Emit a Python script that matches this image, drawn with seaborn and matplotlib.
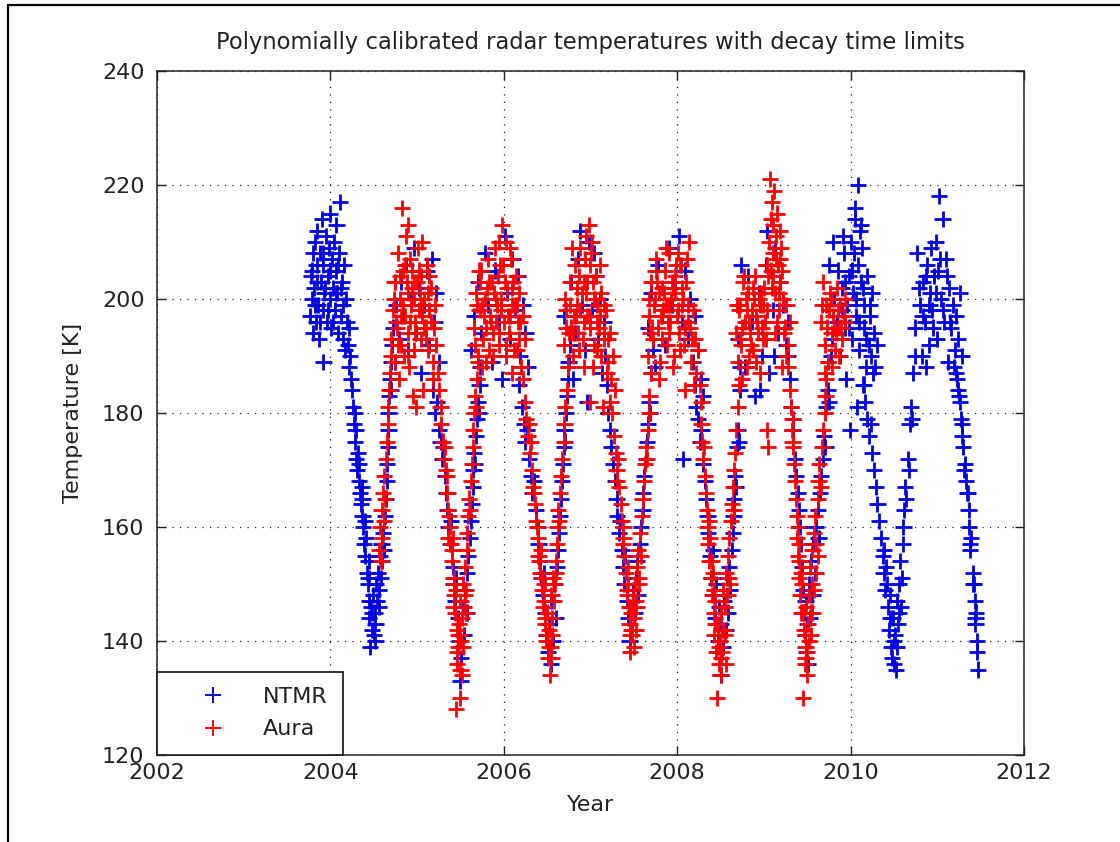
import matplotlib
matplotlib.use("Agg")
import matplotlib.pyplot as plt
from matplotlib.lines import Line2D
import pandas as pd
import seaborn as sns

# ---- NTMR radar temperatures (decimal year, K) ----
ntmr_year = [
    2003.77, 2003.78, 2003.79, 2003.80, 2003.80, 2003.81, 2003.82, 2003.83, 2003.84, 2003.85,
    2003.86, 2003.87, 2003.88, 2003.89, 2003.90, 2003.91, 2003.92, 2003.92, 2003.93, 2003.95,
    2003.96, 2003.97, 2003.98, 2003.99, 2004.00, 2004.01, 2004.02, 2004.03, 2004.04, 2004.05,
    2004.06, 2004.07, 2004.08, 2004.09, 2004.10, 2004.11, 2004.12, 2004.13, 2004.14, 2004.15,
    2004.16, 2004.17, 2004.18, 2004.19, 2004.20, 2004.21, 2004.22, 2004.23, 2004.24, 2004.25,
    2004.26, 2004.27, 2004.28, 2004.29, 2004.30, 2004.31, 2004.32, 2004.33, 2004.34, 2004.35,
    2004.36, 2004.37, 2004.38, 2004.39, 2004.40, 2004.41, 2004.42, 2004.43, 2004.44, 2004.45,
    2004.45, 2004.46, 2004.47, 2004.48, 2004.49, 2004.50, 2004.51, 2004.52, 2004.53, 2004.54,
    2004.55, 2004.56, 2004.57, 2004.58, 2004.59, 2004.60, 2004.61, 2004.62, 2004.63, 2004.64,
    2004.65, 2004.65, 2004.66, 2004.67, 2004.67, 2004.68, 2004.69, 2004.70, 2004.70, 2004.71,
    2004.72, 2004.74, 2004.76, 2004.79, 2004.81, 2004.84, 2004.87, 2004.90, 2004.93, 2004.96,
    2004.99, 2005.02, 2005.05, 2005.08, 2005.11, 2005.14, 2005.17, 2005.20, 2005.22, 2005.25,
    2005.18, 2005.21, 2005.23, 2005.25, 2005.27, 2005.29, 2005.30, 2005.32, 2005.33, 2005.35,
    2005.36, 2005.38, 2005.39, 2005.41, 2005.42, 2005.44, 2005.45, 2005.47, 2005.48, 2005.50,
    2005.51, 2005.53, 2005.54, 2005.55, 2005.57, 2005.58, 2005.59, 2005.61, 2005.62, 2005.63,
    2005.64, 2005.65, 2005.66, 2005.67, 2005.68, 2005.69, 2005.70, 2005.71, 2005.72, 2005.73,
    2005.62, 2005.66, 2005.70, 2005.74, 2005.78, 2005.82, 2005.86, 2005.90, 2005.94, 2005.98,
    2006.01, 2006.04, 2006.07, 2006.10, 2006.13, 2006.16, 2006.19, 2006.22, 2006.25, 2006.28,
    2006.18, 2006.21, 2006.23, 2006.25, 2006.27, 2006.29, 2006.31, 2006.33, 2006.35, 2006.37,
    2006.39, 2006.40, 2006.42, 2006.43, 2006.45, 2006.46, 2006.48, 2006.49, 2006.51, 2006.52,
    2006.54, 2006.55, 2006.57, 2006.58, 2006.60, 2006.61, 2006.62, 2006.64, 2006.65, 2006.66,
    2006.67, 2006.68, 2006.69, 2006.70, 2006.71, 2006.72, 2006.73, 2006.74, 2006.75, 2006.76,
    2006.70, 2006.74, 2006.78, 2006.82, 2006.86, 2006.90, 2006.94, 2006.98, 2007.02, 2007.06,
    2007.09, 2007.11, 2007.13, 2007.15, 2007.17, 2007.19, 2006.88, 2006.96, 2007.04, 2006.80,
    2007.20, 2007.22, 2007.24, 2007.26, 2007.28, 2007.30, 2007.31, 2007.33, 2007.34, 2007.36,
    2007.37, 2007.39, 2007.40, 2007.42, 2007.43, 2007.45, 2007.46, 2007.48, 2007.49, 2007.51,
    2007.52, 2007.54, 2007.55, 2007.57, 2007.58, 2007.60, 2007.61, 2007.62, 2007.64, 2007.65,
    2007.66, 2007.68, 2007.69, 2007.70, 2007.72,
    2007.66, 2007.70, 2007.74, 2007.78, 2007.82, 2007.86, 2007.90, 2007.94, 2007.98, 2008.02,
    2008.05, 2008.07, 2008.09, 2008.12, 2008.15, 2008.18, 2008.21, 2008.24, 2008.27, 2008.30,
    2008.20, 2008.22, 2008.24, 2008.26, 2008.28, 2008.30, 2008.32, 2008.33, 2008.35, 2008.36,
    2008.38, 2008.39, 2008.41, 2008.42, 2008.44, 2008.45, 2008.47, 2008.48, 2008.50, 2008.51,
    2008.53, 2008.54, 2008.56, 2008.57, 2008.59, 2008.60, 2008.61, 2008.63, 2008.64, 2008.65,
    2008.66, 2008.67, 2008.68, 2008.69, 2008.70, 2008.71, 2008.72, 2008.73,
    2008.70, 2008.74, 2008.78, 2008.82, 2008.86, 2008.90, 2008.94, 2008.98, 2009.02, 2009.06,
    2009.10, 2009.13, 2009.16, 2009.19, 2009.22, 2009.25, 2009.28, 2008.96, 2009.04, 2009.12,
    2009.28, 2009.30, 2009.31, 2009.33, 2009.34, 2009.36, 2009.37, 2009.39, 2009.40, 2009.42,
    2009.43, 2009.44, 2009.45, 2009.46, 2009.47, 2009.48, 2009.49, 2009.50, 2009.51, 2009.52,
    2009.53, 2009.54, 2009.56, 2009.57, 2009.59, 2009.60, 2009.62, 2009.63, 2009.65, 2009.66,
    2009.68, 2009.69, 2009.71, 2009.72, 2009.74, 2009.75, 2009.77,
    2009.78, 2009.81, 2009.84, 2009.86, 2009.88, 2009.90, 2009.92, 2009.94, 2009.96, 2009.98,
    2009.99, 2010.00, 2010.02, 2010.03, 2010.05, 2010.06, 2010.08, 2010.09, 2010.10, 2010.12,
    2010.13, 2010.15, 2010.16, 2010.18, 2010.19, 2010.21, 2010.22, 2010.24, 2010.25, 2010.27,
    2010.05, 2010.07, 2010.11, 2010.14, 2009.95, 2009.91, 2010.28, 2010.30, 2009.75, 2009.80,
    2010.15, 2010.17, 2010.19, 2010.21, 2010.23, 2010.25, 2010.27, 2010.29, 2010.31, 2010.33,
    2010.35, 2010.37, 2010.38, 2010.40, 2010.41, 2010.43, 2010.44, 2010.46, 2010.47, 2010.49,
    2010.50, 2010.51, 2010.52, 2010.54, 2010.55, 2010.56, 2010.57, 2010.58, 2010.60, 2010.61,
    2010.62, 2010.63, 2010.64, 2010.66, 2010.67, 2010.68, 2010.70, 2010.71, 2010.72, 2010.74,
    2010.74, 2010.77, 2010.80, 2010.82, 2010.84, 2010.86, 2010.88, 2010.90, 2010.92, 2010.94,
    2010.96, 2010.98, 2011.00, 2011.02, 2011.04, 2011.06, 2011.08, 2011.10, 2011.12, 2011.14,
    2011.16, 2011.18, 2011.20, 2011.22, 2011.24, 2011.26, 2011.28, 2010.87, 2010.93, 2011.01,
    2011.22, 2011.24, 2011.26, 2011.27, 2011.29, 2011.30, 2011.32, 2011.33, 2011.34, 2011.36,
    2011.37, 2011.38, 2011.39, 2011.41, 2011.42, 2011.43, 2011.44, 2011.45, 2011.46, 2011.47,
    # second pass over the same seasons
    2003.79, 2003.82, 2003.85, 2003.88, 2003.91, 2003.94, 2003.97, 2004.00, 2004.03, 2004.06, 2004.09, 2004.12,
    2004.28, 2004.33, 2004.37, 2004.40, 2004.44, 2004.48, 2004.52, 2004.56,
    2009.90, 2009.94, 2009.98, 2010.02, 2010.06, 2010.10, 2010.14, 2010.18, 2010.22, 2010.26, 2010.04, 2010.12,
    2010.39, 2010.42, 2010.45, 2010.48, 2010.50, 2010.53, 2010.56, 2010.59,
    2010.79, 2010.83, 2010.87, 2010.91, 2010.95, 2010.99, 2011.03, 2011.07, 2011.11, 2011.15, 2011.19, 2011.23,
    2011.25, 2011.28, 2011.31, 2011.35, 2011.38, 2011.41, 2011.44, 2011.46,
]
ntmr_temp = [
    197, 204, 200, 208, 194, 202, 210, 196, 206, 212,
    199, 193, 208, 203, 214, 198, 189, 206, 201, 211,
    196, 204, 209, 200, 215, 195, 207, 202, 210, 198,
    205, 213, 201, 194, 208, 217, 197, 203, 199, 193,
    206, 191, 200, 196, 192, 188, 195, 190, 186, 184,
    181, 178, 175, 177, 172, 170, 173, 168, 166, 164,
    167, 162, 160, 157, 155, 158, 152, 150, 154, 147,
    144, 139, 146, 142, 148, 141, 145, 143, 150, 147,
    152, 149, 155, 151, 157, 154, 159, 156, 162, 165,
    168, 171, 174, 177, 180, 183, 186, 184, 189, 192,
    195, 189, 199, 193, 203, 197, 206, 191, 200, 209,
    194, 202, 187, 199, 205, 192, 207, 196, 201, 189,
    184, 180, 182, 177, 175, 172, 174, 169, 166, 163,
    160, 157, 161, 153, 150, 147, 151, 144, 140, 133,
    137, 146, 141, 149, 145, 152, 155, 158, 161, 164,
    167, 170, 173, 171, 176, 179, 182, 180, 185, 188,
    191, 197, 203, 194, 208, 199, 189, 205, 196, 186,
    211, 201, 193, 207, 198, 204, 190, 199, 194, 188,
    185, 181, 178, 175, 177, 172, 169, 166, 168, 163,
    160, 157, 154, 151, 148, 152, 145, 141, 138, 143,
    136, 147, 140, 150, 144, 153, 156, 159, 162, 165,
    168, 171, 174, 177, 175, 180, 183, 186, 189, 192,
    197, 189, 203, 194, 207, 199, 191, 210, 198, 204,
    193, 200, 187, 196, 190, 185, 212, 182, 208, 186,
    180, 177, 174, 171, 168, 165, 162, 159, 161, 156,
    153, 150, 155, 147, 144, 140, 146, 142, 149, 145,
    151, 154, 148, 157, 160, 163, 166, 169, 172, 175,
    178, 182, 180, 187, 191,
    195, 201, 188, 206, 197, 192, 209, 199, 203, 211,
    196, 172, 205, 193, 200, 189, 197, 191, 186, 183,
    185, 181, 179, 175, 177, 171, 168, 165, 162, 159,
    155, 151, 156, 148, 144, 150, 140, 146, 134, 143,
    139, 147, 142, 151, 145, 153, 149, 156, 159, 162,
    165, 169, 167, 174, 177, 175, 184, 188,
    193, 206, 188, 204, 196, 183, 201, 190, 206, 187,
    198, 209, 194, 203, 199, 192, 196, 184, 212, 190,
    190, 186, 181, 177, 179, 172, 169, 166, 163, 160,
    157, 153, 149, 145, 141, 147, 138, 143, 136, 150,
    144, 154, 148, 157, 152, 160, 163, 158, 166, 169,
    172, 176, 174, 181, 184, 182, 190,
    193, 200, 196, 205, 190, 202, 208, 195, 199, 204,
    177, 210, 193, 201, 214, 197, 206, 220, 191, 203,
    209, 195, 199, 188, 204, 192, 197, 190, 201, 194,
    216, 181, 212, 185, 186, 211, 188, 192, 206, 210,
    185, 182, 179, 176, 178, 173, 170, 167, 164, 161,
    158, 155, 152, 149, 153, 146, 142, 148, 139, 144,
    136, 141, 135, 147, 143, 150, 154, 146, 157, 160,
    163, 167, 165, 172, 170, 178, 181, 179, 187, 190,
    195, 208, 199, 190, 203, 196, 206, 192, 201, 198,
    204, 210, 193, 218, 200, 214, 196, 207, 189, 202,
    195, 199, 191, 197, 193, 201, 190, 188, 209, 205,
    187, 184, 182, 179, 176, 174, 171, 168, 166, 163,
    160, 157, 158, 152, 150, 147, 144, 145, 138, 135,
    # second pass over the same seasons
    205, 199, 203, 196, 208, 202, 198, 205, 196, 201, 206, 202,
    180, 171, 165, 161, 151, 145, 140, 146,
    198, 203, 195, 205, 200, 196, 202, 193, 199, 187, 208, 213,
    156, 150, 144, 137, 140, 139, 145, 151,
    202, 197, 204, 199, 195, 201, 207, 198, 204, 196, 188, 186,
    183, 178, 170, 166, 156, 150, 143, 140,
]

# ---- Aura radar temperatures (decimal year, K) ----
aura_year = [
    2004.56, 2004.57, 2004.58, 2004.59, 2004.60, 2004.61, 2004.62, 2004.62, 2004.63, 2004.64,
    2004.65, 2004.66, 2004.67, 2004.68, 2004.69, 2004.70,
    2004.70, 2004.72, 2004.74, 2004.75, 2004.77, 2004.78, 2004.80, 2004.81, 2004.83, 2004.84,
    2004.86, 2004.87, 2004.89, 2004.90, 2004.92, 2004.93, 2004.95, 2004.96, 2004.98, 2004.99,
    2005.01, 2005.02, 2005.04, 2005.05, 2005.07, 2005.08, 2005.10, 2005.11, 2005.13, 2005.14,
    2005.16, 2005.18, 2005.19, 2005.21, 2005.22, 2004.79, 2004.85, 2004.91, 2004.97, 2005.03,
    2005.24, 2005.25, 2005.27, 2005.28, 2005.30, 2005.31, 2005.32, 2005.34, 2005.35, 2005.36,
    2005.38, 2005.39, 2005.40, 2005.41, 2005.42, 2005.43, 2005.44, 2005.45, 2005.46, 2005.47,
    2005.45, 2005.46, 2005.48, 2005.49, 2005.50, 2005.51, 2005.52, 2005.53, 2005.54, 2005.55,
    2005.56, 2005.57, 2005.58, 2005.59, 2005.60, 2005.61, 2005.62, 2005.63, 2005.64, 2005.65,
    2005.66, 2005.67, 2005.68, 2005.69, 2005.70,
    2005.66, 2005.68, 2005.70, 2005.72, 2005.74, 2005.76, 2005.78, 2005.80, 2005.82, 2005.84,
    2005.86, 2005.88, 2005.90, 2005.92, 2005.94, 2005.96, 2005.98, 2006.00, 2006.02, 2006.04,
    2006.06, 2006.08, 2006.10, 2006.12, 2006.14, 2006.16, 2006.18, 2006.20, 2006.22, 2006.24,
    2005.75, 2005.83, 2005.91, 2005.97, 2006.03, 2006.09, 2006.15,
    2006.22, 2006.24, 2006.26, 2006.28, 2006.30, 2006.31, 2006.33, 2006.34, 2006.36, 2006.37,
    2006.39, 2006.40, 2006.42, 2006.43, 2006.44, 2006.45, 2006.47, 2006.48, 2006.49, 2006.50,
    2006.51, 2006.52, 2006.53, 2006.54, 2006.55, 2006.56, 2006.57, 2006.58, 2006.60, 2006.61,
    2006.62, 2006.63, 2006.65, 2006.66, 2006.67, 2006.69, 2006.70, 2006.71, 2006.73, 2006.74,
    2006.70, 2006.72, 2006.74, 2006.76, 2006.78, 2006.80, 2006.82, 2006.84, 2006.86, 2006.88,
    2006.90, 2006.92, 2006.94, 2006.96, 2006.98, 2007.00, 2007.02, 2007.04, 2007.06, 2007.08,
    2007.10, 2007.12, 2007.14, 2007.16, 2007.18, 2007.20, 2007.22, 2007.24, 2007.26, 2007.28,
    2006.81, 2006.87, 2006.93, 2006.99, 2007.05, 2007.11, 2007.03,
    2007.25, 2007.27, 2007.29, 2007.30, 2007.32, 2007.33, 2007.35, 2007.36, 2007.38, 2007.39,
    2007.41, 2007.42, 2007.43, 2007.44, 2007.45, 2007.46, 2007.47, 2007.48, 2007.49, 2007.50,
    2007.51, 2007.52, 2007.54, 2007.55, 2007.56, 2007.57, 2007.59, 2007.60, 2007.62, 2007.63,
    2007.64, 2007.66, 2007.67, 2007.68, 2007.70,
    2007.66, 2007.68, 2007.70, 2007.72, 2007.74, 2007.76, 2007.78, 2007.80, 2007.82, 2007.84,
    2007.86, 2007.88, 2007.90, 2007.92, 2007.94, 2007.96, 2007.98, 2008.00, 2008.02, 2008.04,
    2008.06, 2008.08, 2008.10, 2008.12, 2008.14, 2008.16, 2008.18, 2008.20, 2008.22, 2008.24,
    2007.79, 2007.87, 2007.95, 2008.01, 2008.09, 2008.26, 2008.28,
    2008.28, 2008.29, 2008.30, 2008.32, 2008.33, 2008.34, 2008.35, 2008.36, 2008.37, 2008.38,
    2008.39, 2008.40, 2008.41, 2008.42, 2008.43, 2008.44, 2008.45, 2008.46, 2008.47, 2008.48,
    2008.49, 2008.50, 2008.51, 2008.52, 2008.53, 2008.54, 2008.55, 2008.56, 2008.58, 2008.59,
    2008.60, 2008.62, 2008.63, 2008.64, 2008.66, 2008.67, 2008.68, 2008.70, 2008.71,
    2008.68, 2008.70, 2008.72, 2008.74, 2008.76, 2008.78, 2008.80, 2008.82, 2008.84, 2008.86,
    2008.88, 2008.90, 2008.92, 2008.94, 2008.96, 2008.98, 2009.00, 2009.02, 2009.04, 2009.05,
    2009.06, 2009.07, 2009.08, 2009.09, 2009.10, 2009.11, 2009.12, 2009.13, 2009.14, 2009.15,
    2009.16, 2009.17, 2009.18, 2009.19, 2009.20, 2009.22, 2009.24, 2009.26, 2009.28, 2009.30,
    2008.75, 2008.83, 2008.91, 2008.99, 2009.03, 2009.13, 2009.21,
    2009.28, 2009.30, 2009.31, 2009.32, 2009.33, 2009.34, 2009.35, 2009.36, 2009.37, 2009.38,
    2009.38, 2009.39, 2009.40, 2009.41, 2009.42, 2009.43, 2009.44, 2009.45, 2009.46, 2009.47,
    2009.48, 2009.49, 2009.50, 2009.51, 2009.52, 2009.53, 2009.54, 2009.55, 2009.56, 2009.58,
    2009.59, 2009.60, 2009.62, 2009.63, 2009.64, 2009.66, 2009.67, 2009.68, 2009.70, 2009.71,
    2009.72, 2009.74,
    2009.66, 2009.68, 2009.70, 2009.72, 2009.74, 2009.76, 2009.78, 2009.80, 2009.82, 2009.84,
    2009.86, 2009.88, 2009.90, 2009.92, 2009.94, 2009.71, 2009.79, 2009.87, 2009.75, 2009.83,
    # second pass over the same seasons
    2004.73, 2004.76, 2004.80, 2004.84, 2004.88, 2004.92, 2004.96, 2005.00, 2005.04, 2005.08,
    2005.12, 2005.16, 2004.90, 2004.94, 2005.06,
    2005.33, 2005.37, 2005.40, 2005.43, 2005.47, 2005.50, 2005.53, 2005.56,
    2005.69, 2005.73, 2005.77, 2005.81, 2005.85, 2005.89, 2005.93, 2005.97, 2006.01, 2006.05,
    2006.09, 2006.13, 2006.17, 2005.95, 2006.07,
    2006.29, 2006.35, 2006.41, 2006.46, 2006.50, 2006.55, 2006.59, 2006.64,
    2006.72, 2006.76, 2006.80, 2006.84, 2006.88, 2006.92, 2006.96, 2007.00, 2007.04, 2007.08,
    2007.12, 2007.16, 2007.20, 2006.95, 2007.01,
    2007.31, 2007.37, 2007.42, 2007.47, 2007.50, 2007.53, 2007.58, 2007.65,
    2007.69, 2007.73, 2007.77, 2007.81, 2007.85, 2007.89, 2007.93, 2007.97, 2008.01, 2008.05,
    2008.09, 2008.13, 2008.17, 2007.91, 2008.03,
    2008.31, 2008.37, 2008.42, 2008.47, 2008.51, 2008.55, 2008.60, 2008.65,
    2008.71, 2008.75, 2008.79, 2008.83, 2008.87, 2008.91, 2008.95, 2008.99, 2009.03, 2009.11,
    2009.17, 2009.21, 2009.25, 2009.08, 2009.14,
    2009.33, 2009.39, 2009.43, 2009.47, 2009.50, 2009.54, 2009.58, 2009.62,
    2009.67, 2009.73, 2009.77, 2009.81, 2009.85, 2009.89, 2009.93,
    # third pass
    2004.74, 2004.78, 2004.82, 2004.86, 2004.90, 2004.94, 2004.98, 2005.02, 2005.06, 2005.10, 2005.14, 2005.18,
    2005.36, 2005.42, 2005.46, 2005.49, 2005.52, 2005.55,
    2005.67, 2005.71, 2005.75, 2005.79, 2005.83, 2005.87, 2005.91, 2005.95, 2005.99, 2006.03, 2006.07, 2006.11, 2006.15, 2006.19,
    2006.38, 2006.44, 2006.48, 2006.52, 2006.56, 2006.60,
    2006.71, 2006.75, 2006.79, 2006.83, 2006.87, 2006.91, 2006.95, 2006.99, 2007.03, 2007.07, 2007.11, 2007.15, 2007.19, 2007.23,
    2007.38, 2007.43, 2007.46, 2007.49, 2007.52, 2007.56,
    2007.67, 2007.71, 2007.75, 2007.79, 2007.83, 2007.87, 2007.91, 2007.95, 2007.99, 2008.03, 2008.07, 2008.11, 2008.15, 2008.19,
    2008.40, 2008.44, 2008.48, 2008.52, 2008.56, 2008.61,
    2008.69, 2008.73, 2008.77, 2008.81, 2008.85, 2008.89, 2008.93, 2008.97, 2009.01, 2009.05, 2009.09, 2009.15, 2009.19, 2009.23,
    2009.41, 2009.45, 2009.48, 2009.52, 2009.56, 2009.60,
]
aura_temp = [
    156, 160, 154, 163, 158, 166, 161, 169, 165, 172,
    175, 178, 181, 184, 187, 190,
    193, 198, 189, 203, 195, 208, 200, 192, 216, 205,
    197, 211, 201, 194, 207, 199, 183, 203, 196, 181,
    209, 198, 193, 204, 184, 200, 195, 206, 191, 198,
    202, 189, 195, 199, 192, 186, 190, 188, 191, 201,
    187, 184, 181, 178, 175, 172, 174, 169, 166, 163,
    160, 157, 154, 158, 151, 148, 145, 149, 142, 139,
    128, 136, 143, 130, 147, 140, 144, 150, 146, 153,
    149, 156, 159, 162, 165, 163, 168, 171, 174, 177,
    180, 183, 181, 186, 189,
    195, 201, 190, 198, 205, 193, 200, 189, 207, 197,
    203, 194, 209, 199, 192, 206, 213, 196, 210, 202,
    194, 207, 199, 191, 204, 196, 201, 188, 197, 193,
    188, 191, 196, 200, 190, 187, 199,
    186, 182, 179, 176, 173, 175, 170, 167, 164, 161,
    158, 155, 152, 156, 149, 146, 150, 143, 140, 145,
    137, 142, 134, 139, 148, 144, 151, 147, 154, 157,
    160, 163, 166, 169, 172, 175, 178, 181, 184, 188,
    192, 198, 188, 203, 195, 190, 206, 199, 194, 209,
    201, 196, 207, 203, 213, 197, 210, 192, 204, 199,
    195, 201, 181, 193, 198, 189, 194, 186, 190, 184,
    197, 191, 188, 182, 200, 206, 188,
    180, 176, 173, 170, 172, 167, 164, 161, 158, 155,
    152, 149, 153, 146, 143, 138, 145, 141, 148, 144,
    150, 147, 153, 156, 151, 159, 162, 165, 168, 171,
    174, 177, 180, 183, 187,
    190, 197, 203, 193, 200, 207, 195, 189, 202, 198,
    205, 192, 199, 196, 203, 190, 201, 197, 194, 206,
    199, 192, 203, 196, 210, 189, 198, 193, 187, 191,
    186, 209, 188, 208, 184, 185, 182,
    178, 175, 172, 169, 166, 163, 160, 157, 154, 158,
    151, 148, 152, 145, 141, 147, 138, 130, 143, 136,
    140, 134, 145, 138, 149, 142, 146, 152, 148, 155,
    158, 161, 164, 167, 170, 173, 177, 181, 185,
    194, 189, 199, 192, 203, 196, 188, 201, 194, 198,
    191, 204, 196, 200, 187, 195, 202, 193, 177, 174,
    210, 221, 205, 217, 213, 208, 219, 201, 211, 215,
    206, 198, 212, 203, 209, 200, 195, 199, 192, 196,
    186, 190, 189, 199, 206, 194, 188,
    188, 184, 181, 177, 179, 174, 171, 168, 165, 162,
    158, 155, 151, 157, 148, 145, 150, 130, 142, 136,
    139, 146, 134, 143, 148, 153, 145, 150, 156, 159,
    162, 157, 165, 168, 171, 167, 174, 177, 180, 183,
    186, 189,
    196, 203, 192, 199, 189, 201, 194, 197, 191, 202,
    195, 199, 193, 197, 200, 187, 188, 190, 198, 194,
    # second pass over the same seasons
    200, 196, 204, 199, 203, 196, 200, 203, 199, 195,
    201, 196, 213, 205, 210,
    170, 162, 156, 150, 141, 135, 139, 145,
    199, 203, 197, 202, 196, 201, 204, 198, 203, 197,
    202, 199, 193, 210, 209,
    178, 166, 154, 147, 141, 137, 150, 161,
    195, 199, 194, 202, 198, 203, 197, 206, 200, 196,
    190, 199, 193, 211, 208,
    168, 157, 148, 142, 139, 146, 155, 172,
    194, 199, 203, 197, 201, 196, 200, 204, 198, 202,
    195, 199, 193, 208, 206,
    174, 161, 149, 141, 137, 141, 151, 163,
    198, 195, 200, 196, 202, 197, 199, 193, 198, 204,
    201, 205, 190, 214, 207,
    175, 160, 152, 141, 138, 141, 149, 155,
    199, 195, 200, 195, 198, 195, 196,
    # third pass
    203, 192, 197, 206, 190, 202, 194, 205, 197, 193, 204, 186,
    158, 146, 138, 141, 134, 148,
    192, 205, 199, 195, 203, 190, 200, 194, 206, 192, 197, 203, 191, 196,
    160, 151, 144, 139, 141, 152,
    200, 194, 209, 197, 204, 193, 201, 195, 203, 191, 197, 194, 187, 182,
    160, 150, 141, 146, 142, 150,
    200, 195, 205, 201, 193, 199, 194, 202, 206, 191, 200, 207, 195, 185,
    154, 143, 139, 142, 136, 150,
    199, 193, 204, 198, 192, 200, 194, 201, 196, 204, 202, 196, 207, 194,
    154, 145, 137, 140, 145, 152,
]

series_names = ["NTMR", "Aura"]
series_colors = ["#0000e6", "#ff0000"]
x_ticks = [2002, 2004, 2006, 2008, 2010, 2012]
y_ticks = [120, 140, 160, 180, 200, 220, 240]

assert len(ntmr_year) == len(ntmr_temp), (len(ntmr_year), len(ntmr_temp))
assert len(aura_year) == len(aura_temp), (len(aura_year), len(aura_temp))

df = pd.concat([
    pd.DataFrame({"Year": ntmr_year, "Temperature": ntmr_temp, "Instrument": series_names[0]}),
    pd.DataFrame({"Year": aura_year, "Temperature": aura_temp, "Instrument": series_names[1]}),
], ignore_index=True)

sns.set_theme(style="white")
plt.rcParams["font.family"] = ["DejaVu Sans"]

W, H = 1120, 842
fig = plt.figure(figsize=(W / 100, H / 100), dpi=100)
fig.patch.set_facecolor("white")

left, right, top, bottom = 157, 1024, 71, 755
ax = fig.add_axes([left / W, 1 - bottom / H, (right - left) / W, (bottom - top) / H])
ax.set_facecolor("white")

palette = dict(zip(series_names, series_colors))
sns.scatterplot(data=df, x="Year", y="Temperature", hue="Instrument",
                palette=palette, marker="+", s=135, linewidth=2.0,
                ax=ax, legend=False, zorder=3)

ax.set_xlim(2002, 2012)
ax.set_ylim(120, 240)
ax.set_xticks(x_ticks)
ax.set_yticks(y_ticks)
ax.set_xticklabels([str(t) for t in x_ticks])
ax.set_yticklabels([str(t) for t in y_ticks])

ax.grid(True, color="#222222", linestyle=(0, (1, 5)), linewidth=0.9)
ax.set_axisbelow(True)
for sp in ax.spines.values():
    sp.set_color("#222222")
    sp.set_linewidth(1.1)
ax.tick_params(axis="both", which="both", direction="in", length=6.5, width=1.0,
               color="#222222", labelsize=16, labelcolor="#222222",
               top=True, right=True, bottom=True, left=True, pad=6)
ax.tick_params(axis="y", pad=9)

ax.set_xlabel("Year", fontsize=16, color="#222222")
ax.set_ylabel("Temperature [K]", fontsize=16, color="#222222")
ax.xaxis.set_label_coords(0.5, -0.058)
ax.yaxis.set_label_coords(-0.085, 0.5)

fig.text(0.5 * (left + right) / W, 1 - 49 / H,
         "Polynomially calibrated radar temperatures with decay time limits",
         ha="center", va="baseline", fontsize=16.3, color="#222222")

handles = [Line2D([], [], linestyle="", marker="+", color=c, markersize=11, markeredgewidth=1.4)
           for c in series_colors]
leg = ax.legend(handles, series_names, loc="lower left", bbox_to_anchor=(0, 0),
                borderaxespad=0, fancybox=False, framealpha=1, edgecolor="#222222",
                fontsize=16, borderpad=0.7, handlelength=3.6, handletextpad=0.45,
                labelspacing=0.55)
leg.get_frame().set_linewidth(1.3)
for t in leg.get_texts():
    t.set_color("#222222")

# thin frame along the top and left edge of the window
fig.add_artist(Line2D([8 / W, 8 / W], [0, 1 - 5 / H], transform=fig.transFigure,
                      color="black", linewidth=1.6))
fig.add_artist(Line2D([8 / W, 1], [1 - 5 / H, 1 - 5 / H], transform=fig.transFigure,
                      color="black", linewidth=1.6))

fig.savefig("out.png", dpi=100, facecolor="white")
